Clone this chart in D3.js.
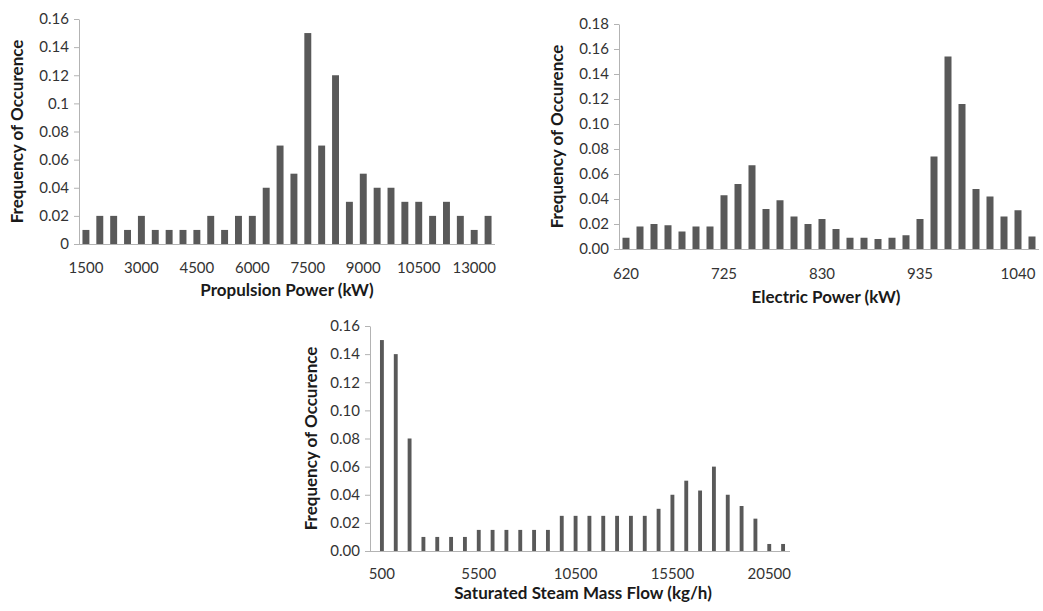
<!DOCTYPE html>
<html>
<head>
<meta charset="utf-8">
<script src="https://cdn.jsdelivr.net/npm/d3@7"></script>
<style>
  html, body { margin: 0; padding: 0; background: #ffffff; }
  svg { display: block; }
  .tick text { font-family: Lato, "Open Sans", sans-serif; font-size: 15px; fill: #333333; }
  .axis-title { font-family: Lato, "Open Sans", sans-serif; font-size: 17px; font-weight: bold; fill: #1a1a1a; }
</style>
</head>
<body>
<svg id="chart" width="1043" height="611"></svg>
<script>
// Propulsion power histogram
const propCategories = [1500, 1875, 2250, 2625, 3000, 3375, 3750, 4125, 4500, 4875,
  5250, 5625, 6000, 6375, 6750, 7125, 7500, 7875, 8250, 8625,
  9000, 9375, 9750, 10125, 10500, 11125, 11750, 12375, 13000, 13625];
const propValues = [0.01, 0.02, 0.02, 0.01, 0.02, 0.01, 0.01, 0.01, 0.01, 0.02,
  0.01, 0.02, 0.02, 0.04, 0.07, 0.05, 0.15, 0.07, 0.12, 0.03,
  0.05, 0.04, 0.04, 0.03, 0.03, 0.02, 0.03, 0.02, 0.01, 0.02];
const propTicks = [1500, 3000, 4500, 6000, 7500, 9000, 10500, 13000];

// Electric power histogram
const elecCategories = [620, 635, 650, 665, 680, 695, 710, 725, 740, 755,
  770, 785, 800, 815, 830, 845, 860, 875, 890, 905,
  920, 935, 950, 965, 980, 995, 1010, 1025, 1040, 1055];
const elecValues = [0.009, 0.018, 0.020, 0.019, 0.014, 0.018, 0.018, 0.043, 0.052, 0.067,
  0.032, 0.039, 0.026, 0.020, 0.024, 0.016, 0.009, 0.009, 0.008, 0.009,
  0.011, 0.024, 0.074, 0.154, 0.116, 0.048, 0.042, 0.026, 0.031, 0.010];
const elecTicks = [620, 725, 830, 935, 1040];

// Saturated steam mass flow histogram
const steamCategories = [500, 1214, 1929, 2643, 3357, 4071, 4786, 5500, 6214, 6929,
  7643, 8357, 9071, 9786, 10500, 11214, 11929, 12643, 13357, 14071,
  14786, 15500, 16214, 16929, 17643, 18357, 19071, 19786, 20500, 21214];
const steamValues = [0.15, 0.14, 0.08, 0.01, 0.01, 0.01, 0.01, 0.015, 0.015, 0.015,
  0.015, 0.015, 0.015, 0.025, 0.025, 0.025, 0.025, 0.025, 0.025, 0.025,
  0.03, 0.04, 0.05, 0.043, 0.06, 0.04, 0.032, 0.023, 0.005, 0.005];
const steamTicks = [500, 5500, 10500, 15500, 20500];

const yTitle = "Frequency of Occurence";
const barColor = "#595959";
const axisColor = "#b3b3b3";

const svg = d3.select("#chart");

function drawHistogram(cfg) {
  const g = svg.append("g");
  // bars start a little right of the value axis when barInset is set
  const x = d3.scaleBand()
    .domain(cfg.categories)
    .range([cfg.left + (cfg.barInset || 0), cfg.right])
    .paddingInner(cfg.gap)
    .paddingOuter(cfg.gap / 2);
  const y = d3.scaleLinear().domain([0, cfg.yMax]).range([cfg.bottom, cfg.top]);

  const yTickValues = d3.range(0, Math.round(cfg.yMax / 0.02) + 1).map(i => +(i * 0.02).toFixed(2));
  const yAxis = d3.axisLeft(y)
    .tickValues(yTickValues)
    .tickSize(5)
    .tickSizeOuter(0)
    .tickPadding(5)
    .tickFormat(cfg.yFormat);
  const ya = g.append("g").attr("transform", `translate(${cfg.left},0)`).call(yAxis);
  ya.selectAll("line, path").attr("stroke", axisColor);

  g.selectAll("rect.bar")
    .data(cfg.values)
    .join("rect")
    .attr("class", "bar")
    .attr("x", (d, i) => x(cfg.categories[i]))
    .attr("width", x.bandwidth())
    .attr("y", d => y(d))
    .attr("height", d => y(0) - y(d))
    .attr("fill", barColor);

  const xAxis = d3.axisBottom(x)
    .tickValues(cfg.ticks)
    .tickSize(0)
    .tickSizeOuter(0)
    .tickPadding(cfg.xPad);
  const xa = g.append("g").attr("transform", `translate(0,${cfg.bottom})`).call(xAxis);
  xa.select("path.domain").remove();
  // category axis line spans the full plot width
  xa.append("line")
    .attr("x1", cfg.left).attr("x2", cfg.right)
    .attr("y1", 0.5).attr("y2", 0.5)
    .attr("stroke", axisColor);

  g.append("text")
    .attr("class", "axis-title")
    .attr("x", cfg.xTitleX)
    .attr("y", cfg.xTitleY)
    .attr("text-anchor", "middle")
    .attr("dominant-baseline", "middle")
    .text(cfg.xTitle);

  g.append("text")
    .attr("class", "axis-title")
    .attr("transform", `translate(${cfg.yTitleX},${(cfg.top + cfg.bottom) / 2}) rotate(-90)`)
    .attr("text-anchor", "middle")
    .attr("dominant-baseline", "middle")
    .text(yTitle);
}

const general = d => String(+d.toFixed(2));
const fixed2 = d3.format(".2f");

drawHistogram({
  categories: propCategories, values: propValues, ticks: propTicks,
  left: 79, right: 495, top: 19, bottom: 244, yMax: 0.16, gap: 0.5,
  yFormat: general, xPad: 18,
  xTitle: "Propulsion Power (kW)", xTitleX: 287, xTitleY: 292, yTitleX: 19
});

drawHistogram({
  categories: elecCategories, values: elecValues, ticks: elecTicks,
  left: 619, right: 1039, top: 24, bottom: 249, yMax: 0.18, gap: 0.5,
  yFormat: fixed2, xPad: 19,
  xTitle: "Electric Power (kW)", xTitleX: 826, xTitleY: 299, yTitleX: 559
});

drawHistogram({
  categories: steamCategories, values: steamValues, ticks: steamTicks,
  left: 370, right: 790, top: 326, bottom: 551, yMax: 0.16, gap: 0.72,
  barInset: 5, yFormat: fixed2, xPad: 17,
  xTitle: "Saturated Steam Mass Flow (kg/h)", xTitleX: 583, xTitleY: 595, yTitleX: 313
});
</script>
</body>
</html>
